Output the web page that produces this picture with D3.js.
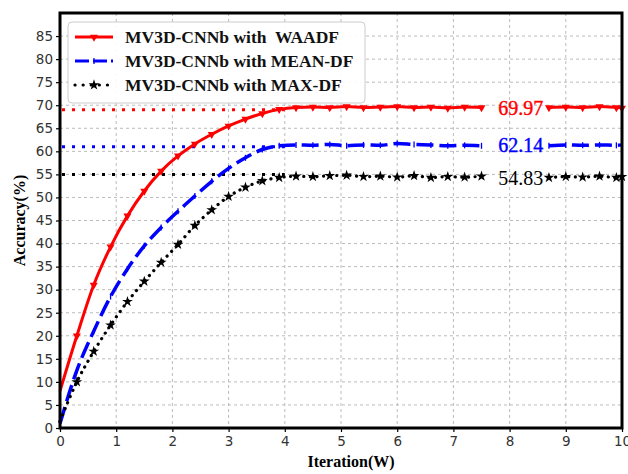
<!DOCTYPE html>
<html><head><meta charset="utf-8">
<script src="https://cdn.jsdelivr.net/npm/d3@7"></script>
<style>body{margin:0;background:#fff}svg{display:block}</style>
</head><body>
<svg id="c" width="628" height="474"></svg>
<script>
const iterations = [0,0.3,0.6,0.9,1.2,1.5,1.8,2.1,2.4,2.7,3.0,3.3,3.6,3.9,4.2,4.5,4.8,5.1,5.4,5.7,6.0,6.3,6.6,6.9,7.2,7.5,7.8,8.1,8.4,8.7,9.0,9.3,9.6,9.9,10];
const waadf = [8,20,31,39.3,46,51.4,55.7,59,61.6,63.7,65.5,67,68.2,69.1,69.5,69.6,69.5,69.7,69.5,69.6,69.7,69.5,69.6,69.4,69.6,69.5,69.6,69.5,69.7,69.5,69.6,69.5,69.7,69.5,69.4];
const meanDF = [1,12.5,21,28.5,34.5,39.5,43.5,47,50.3,53.5,56.3,58.6,60.4,61.2,61.4,61.3,61.5,61.2,61.4,61.3,61.7,61.5,61.4,61.2,61.3,61.2,61.3,61.2,61.3,61.2,61.4,61.3,61.4,61.3,61.4];
const maxDF = [1.5,10,16.6,22.3,27.4,31.8,35.9,39.8,43.9,47.3,50.2,52.2,53.6,54.3,54.6,54.5,54.7,54.8,54.5,54.6,54.4,54.7,54.3,54.5,54.4,54.6,54.3,54.4,54.6,54.3,54.5,54.4,54.6,54.3,54.5];
const seriesNames = ["MV3D-CNNb with  WAADF","MV3D-CNNb with MEAN-DF","MV3D-CNNb with MAX-DF"];
const refLevels = [69, 61, 55];
const refEnd = 4;
const finalLabels = ["69.97","62.14","54.83"];
const labelAt = 8.2;
const gapFrom = 7.5, gapTo = 8.7;
const xTicks = [0,1,2,3,4,5,6,7,8,9,10];
const yTicks = [0,5,10,15,20,25,30,35,40,45,50,55,60,65,70,75,80,85];

const svg = d3.select("#c");
const L = 60, R = 622, T = 13, B = 428;
const x = d3.scaleLinear().domain([0,10]).range([L,R]);
const y = d3.scaleLinear().domain([0,90]).range([B,T]);

const colors = ["#ff0000","#0000ff","#000000"];
const data = [waadf, meanDF, maxDF].map(v => iterations.map((it,i)=>({x:it,y:v[i]})));

// grid
const g = svg.append("g");
g.selectAll(".gx").data(xTicks.slice(1,-1)).enter().append("line")
  .attr("x1",d=>x(d)).attr("x2",d=>x(d)).attr("y1",T).attr("y2",B)
  .attr("stroke","#bbb").attr("stroke-width",1).attr("stroke-dasharray","3,3");
g.selectAll(".gy").data(yTicks.slice(1)).enter().append("line")
  .attr("x1",L).attr("x2",R).attr("y1",d=>y(d)).attr("y2",d=>y(d))
  .attr("stroke","#bbb").attr("stroke-width",1).attr("stroke-dasharray","3,3");

// reference dotted lines
refLevels.forEach((lv,i)=>{
  svg.append("line").attr("x1",x(0)+2).attr("x2",x(refEnd)).attr("y1",y(lv)).attr("y2",y(lv))
    .attr("stroke",colors[i]).attr("stroke-width",3).attr("stroke-dasharray","3,7");
});

const def = d => !(d.x > gapFrom && d.x < gapTo);
const line = d3.line().defined(def).x(d=>x(d.x)).y(d=>y(d.y)).curve(d3.curveMonotoneX);

// series lines
svg.append("path").datum(data[0]).attr("d",line).attr("fill","none")
  .attr("stroke",colors[0]).attr("stroke-width",3);
svg.append("path").datum(data[1]).attr("d",line).attr("fill","none")
  .attr("stroke",colors[1]).attr("stroke-width",3.5).attr("stroke-dasharray","17,6");
svg.append("path").datum(data[2]).attr("d",line).attr("fill","none")
  .attr("stroke",colors[2]).attr("stroke-width",3.2).attr("stroke-linecap","round").attr("stroke-dasharray","0.1,6.5");

// markers
const tri = d3.symbol().type(d3.symbolTriangle).size(28)();
const star = d3.symbol().type(d3.symbolStar).size(36)();
function drawMarker(sel, k){
  if(k===0) sel.append("path").attr("d",tri).attr("transform","rotate(180)").attr("fill",colors[0]);
  else if(k===1) sel.append("line").attr("x1",0).attr("x2",0).attr("y1",-3).attr("y2",3).attr("stroke",colors[1]).attr("stroke-width",1.3);
  else sel.append("path").attr("d",star).attr("fill",colors[2]);
}
data.forEach((s,k)=>{
  s.filter(def).slice(1).forEach(d=>{
    const m = svg.append("g").attr("transform",`translate(${x(d.x)},${y(d.y)})`);
    drawMarker(m,k);
  });
});

// final value labels
const lblY = [waadf[waadf.length-1], meanDF[meanDF.length-1], maxDF[maxDF.length-1]];
finalLabels.forEach((t,i)=>{
  svg.append("text").attr("x",x(labelAt)).attr("y",y(lblY[i])+ (i===2?8:7))
    .attr("text-anchor","middle").attr("font-family","Liberation Serif, Times New Roman, serif")
    .attr("font-size",20).attr("font-weight","normal").attr("fill",colors[i])
    .attr("stroke",colors[i]).attr("stroke-width",i===2?0:0.4).text(t);
});

// axes
const ax = svg.append("g").attr("transform",`translate(0,${B})`)
  .call(d3.axisBottom(x).tickValues(xTicks).tickSize(4).tickPadding(4).tickFormat(d3.format("d")));
const ay = svg.append("g").attr("transform",`translate(${L},0)`)
  .call(d3.axisLeft(y).tickValues(yTicks).tickSize(4).tickPadding(3).tickFormat(d3.format("d")));
[ax,ay].forEach(a=>{
  a.select(".domain").remove();
  a.selectAll(".tick line").attr("stroke","#000").attr("stroke-width",1.2);
  a.selectAll("text").attr("font-family","DejaVu Sans, sans-serif").attr("font-size",13.5).attr("fill","#333");
});

// frame
svg.append("rect").attr("x",L).attr("y",T).attr("width",R-L).attr("height",B-T)
  .attr("fill","none").attr("stroke","#000").attr("stroke-width",3);

// axis titles
svg.append("text").attr("x",(L+R)/2+10).attr("y",467).attr("text-anchor","middle")
  .attr("font-family","Liberation Serif, Times New Roman, serif").attr("font-weight","bold").attr("font-size",16)
  .text("Iteration(W)");
svg.append("text").attr("transform",`translate(25,${(T+B)/2}) rotate(-90)`).attr("text-anchor","middle")
  .attr("font-family","Liberation Serif, Times New Roman, serif").attr("font-weight","bold").attr("font-size",16)
  .text("Accuracy(%)");

// legend
const lg = svg.append("g");
lg.append("rect").attr("x",68).attr("y",22).attr("width",297).attr("height",81).attr("rx",4)
  .attr("fill","#fff").attr("fill-opacity",0.9).attr("stroke","#ccc").attr("stroke-width",1);
const rowY = [37, 61, 85];
seriesNames.forEach((n,i)=>{
  const ln = lg.append("line").attr("x1",75).attr("x2",113).attr("y1",rowY[i]).attr("y2",rowY[i])
    .attr("stroke",colors[i]).attr("stroke-width",3.2);
  if(i===1) ln.attr("stroke-dasharray","14,4");
  if(i===2) ln.attr("stroke-linecap","round").attr("stroke-dasharray","0.1,8");
  const m = lg.append("g").attr("transform",`translate(94,${rowY[i]})`);
  drawMarker(m,i);
  lg.append("text").attr("x",125).attr("y",rowY[i]+5.5).attr("font-family","Liberation Serif, Times New Roman, serif")
    .attr("font-weight","bold").attr("font-size",17.5).attr("fill","#111").style("white-space","pre").text(n);
});
</script>
</body></html>
